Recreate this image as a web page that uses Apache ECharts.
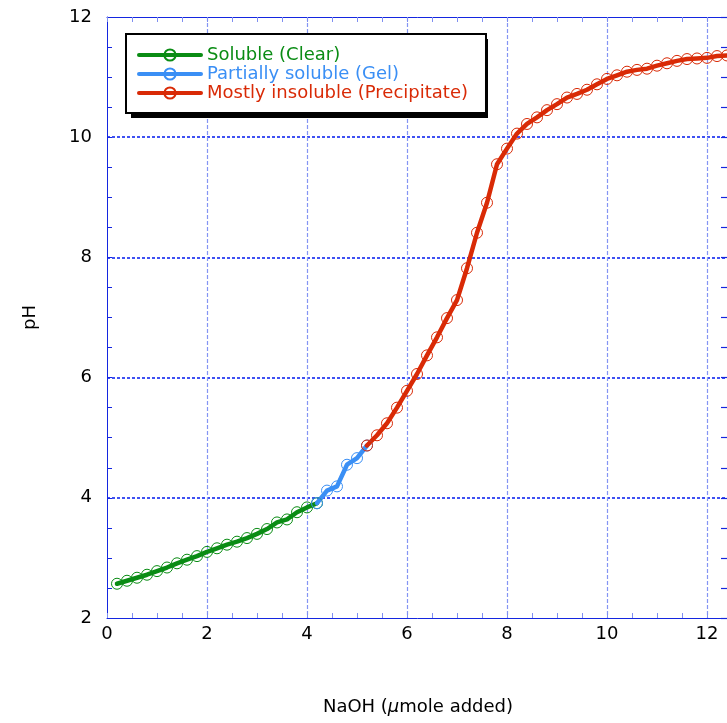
<!DOCTYPE html>
<html>
<head>
<meta charset="utf-8">
<script src="https://cdn.jsdelivr.net/npm/echarts@6/dist/echarts.min.js"></script>
<style>
  html, body { margin: 0; padding: 0; background: #fff; }
  #chart { width: 727px; height: 723px; }
</style>
</head>
<body>
<div id="chart"></div>
<script>
// Titration of the sample with NaOH: pH after each addition, split by solubility state
const solubleX = [0.2, 0.4, 0.6, 0.8, 1.0, 1.2, 1.4, 1.6, 1.8, 2.0, 2.2, 2.4, 2.6, 2.8, 3.0, 3.2, 3.4, 3.6, 3.8, 4.0, 4.2];
const solublePH = [2.57, 2.62, 2.67, 2.72, 2.78, 2.84, 2.91, 2.97, 3.03, 3.10, 3.16, 3.22, 3.27, 3.33, 3.40, 3.48, 3.59, 3.64, 3.76, 3.84, 3.91];

const gelX = [4.2, 4.4, 4.6, 4.8, 5.0, 5.2];
const gelPH = [3.91, 4.12, 4.19, 4.55, 4.66, 4.87];

const precipX = [5.2, 5.4, 5.6, 5.8, 6.0, 6.2, 6.4, 6.6, 6.8, 7.0, 7.2, 7.4, 7.6, 7.8, 8.0, 8.2, 8.4, 8.6, 8.8, 9.0,
  9.2, 9.4, 9.6, 9.8, 10.0, 10.2, 10.4, 10.6, 10.8, 11.0, 11.2, 11.4, 11.6, 11.8, 12.0, 12.2, 12.4];
const precipPH = [4.87, 5.04, 5.24, 5.50, 5.78, 6.06, 6.37, 6.67, 6.99, 7.29, 7.82, 8.41, 8.91, 9.55, 9.81, 10.06, 10.22, 10.33, 10.45, 10.55,
  10.66, 10.72, 10.79, 10.88, 10.97, 11.03, 11.09, 11.12, 11.14, 11.19, 11.23, 11.27, 11.30, 11.31, 11.32, 11.35, 11.36];

const seriesNames = ['Soluble (Clear)', 'Partially soluble (Gel)', 'Mostly insoluble (Precipitate)'];
const seriesColors = ['#0a8c14', '#3a8ff5', '#d92a06'];

const FONT = '"DejaVu Sans", sans-serif';
const FONT_SIZE = 18;
const AXIS_BLUE = '#1426e0';
const TICK_BLUE = '#7f8ff0';
const GRID_X = '#8494f4';
const GRID_Y = '#0018f0';

function pairs(xs, ys) { return xs.map((x, i) => [x, ys[i]]); }

function lineSeries(name, color, data) {
  return {
    name: name,
    type: 'line',
    data: data,
    smooth: false,
    symbol: 'circle',
    symbolSize: 11,
    lineStyle: { color: color, width: 4.5, join: 'round', cap: 'round' },
    itemStyle: { color: 'rgba(255,255,255,0)', borderColor: color, borderWidth: 1 },
    emphasis: { disabled: true },
    clip: true
  };
}

const chart = echarts.init(document.getElementById('chart'), null, { renderer: 'canvas' });

chart.setOption({
  animation: false,
  backgroundColor: '#fff',
  title: {
    text: '{a|NaOH (}{b|µ}{a|mole added)}',
    left: 418,
    textAlign: 'center',
    top: 698,
    padding: 0,
    textStyle: {
      fontWeight: 'normal',
      rich: {
        a: { fontFamily: FONT, fontSize: FONT_SIZE, color: '#000', fontWeight: 'normal' },
        b: { fontFamily: FONT, fontSize: FONT_SIZE, color: '#000', fontWeight: 'normal', fontStyle: 'italic' }
      }
    }
  },
  // solid drop shadow behind the legend box
  graphic: [{
    type: 'rect',
    z: 3,
    silent: true,
    shape: { x: 131, y: 39, width: 357, height: 79 },
    style: { fill: '#000' }
  }],
  legend: {
    orient: 'vertical',
    left: 126,
    top: 34,
    padding: [12, 18, 11, 11],
    itemWidth: 62,
    itemHeight: 14,
    itemGap: 1,
    z: 5,
    backgroundColor: '#fff',
    borderColor: '#000',
    borderWidth: 2,
    borderRadius: 0,
    selectedMode: false,
    lineStyle: { width: 4 },
    textStyle: { fontFamily: FONT, fontSize: FONT_SIZE, padding: [0, 0, 0, 1] },
    data: seriesNames.map((n, i) => ({ name: n, textStyle: { color: seriesColors[i] } }))
  },
  grid: { left: 107, top: 17, width: 700, height: 601, containLabel: false, outerBoundsMode: 'none' },
  xAxis: [
    {
      type: 'value',
      position: 'bottom',
      min: 0, max: 14, interval: 2,
      axisLine: { show: true, onZero: false, lineStyle: { color: AXIS_BLUE, width: 1 } },
      axisTick: { show: true, inside: true, length: 5, lineStyle: { color: TICK_BLUE, width: 1 } },
      minorTick: { show: true, splitNumber: 4, length: 5, lineStyle: { color: TICK_BLUE, width: 1 } },
      axisLabel: { fontFamily: FONT, fontSize: FONT_SIZE, color: '#000', margin: 7, showMaxLabel: false },
      splitLine: { show: true, showMinLine: false, showMaxLine: false, lineStyle: { color: [GRID_X], width: 1.2, type: [4, 2], opacity: 1 } }
    },
    {
      type: 'value',
      position: 'top',
      min: 0, max: 14, interval: 2,
      axisLine: { show: true, onZero: false, lineStyle: { color: AXIS_BLUE, width: 1 } },
      axisTick: { show: true, inside: true, length: 5, lineStyle: { color: TICK_BLUE, width: 1 } },
      minorTick: { show: true, splitNumber: 4, length: 5, lineStyle: { color: TICK_BLUE, width: 1 } },
      axisLabel: { show: false },
      splitLine: { show: false }
    }
  ],
  yAxis: [
    {
      type: 'value',
      position: 'left',
      min: 2, max: 12, interval: 2,
      name: 'pH',
      nameLocation: 'middle',
      nameGap: 68,
      nameRotate: 90,
      nameTextStyle: { fontFamily: FONT, fontSize: FONT_SIZE, color: '#000' },
      axisLine: { show: true, onZero: false, lineStyle: { color: AXIS_BLUE, width: 1 } },
      axisTick: { show: true, inside: true, length: 5, lineStyle: { color: AXIS_BLUE, width: 1 } },
      minorTick: { show: true, splitNumber: 4, length: 5, lineStyle: { color: AXIS_BLUE, width: 1 } },
      axisLabel: { fontFamily: FONT, fontSize: FONT_SIZE, color: '#000', margin: 15 },
      splitLine: { show: true, showMinLine: false, showMaxLine: false, lineStyle: { color: [GRID_Y], width: 1.5, type: [3, 2], opacity: 1 } }
    },
    {
      type: 'value',
      position: 'right',
      offset: -80,
      min: 2, max: 12, interval: 2,
      axisLine: { show: true, onZero: false, lineStyle: { color: AXIS_BLUE, width: 1 } },
      axisTick: { show: true, inside: true, length: 6, lineStyle: { color: AXIS_BLUE, width: 1.2 } },
      minorTick: { show: true, splitNumber: 4, length: 6, lineStyle: { color: AXIS_BLUE, width: 1.2 } },
      axisLabel: { show: false },
      splitLine: { show: false }
    }
  ],
  series: [
    lineSeries(seriesNames[0], seriesColors[0], pairs(solubleX, solublePH)),
    lineSeries(seriesNames[1], seriesColors[1], pairs(gelX, gelPH)),
    lineSeries(seriesNames[2], seriesColors[2], pairs(precipX, precipPH))
  ]
});
</script>
</body>
</html>
